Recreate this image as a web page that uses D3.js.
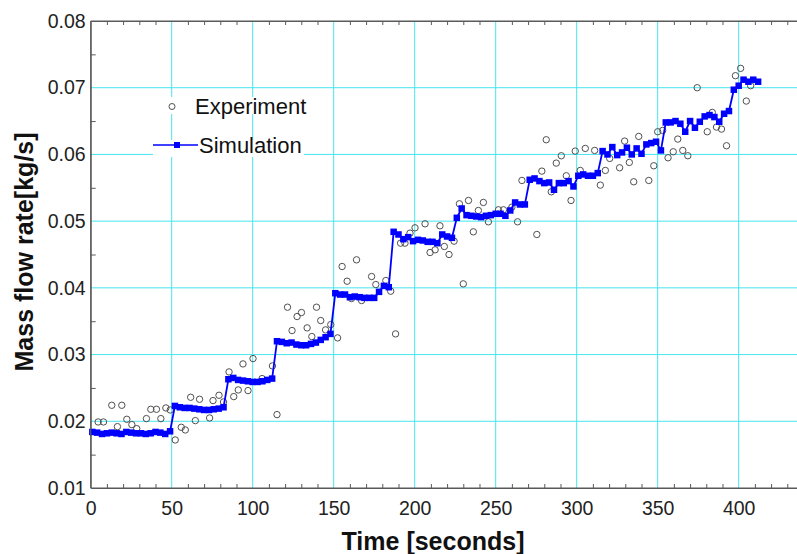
<!DOCTYPE html>
<html>
<head>
<meta charset="utf-8">
<script src="https://cdn.jsdelivr.net/npm/d3@7"></script>
<style>
  html, body { margin: 0; padding: 0; background: #fff; }
  svg { display: block; font-family: "Liberation Sans", Arial, sans-serif; }
</style>
</head>
<body>
<svg id="chart" width="797" height="554"></svg>
<script>
// Measured experimental mass flow rate (time in s, flow in kg/s)
const expTime = [4.6, 7.9, 13, 16.5, 19.2, 22.3, 25.4, 28.4, 34.4, 37.1, 40.6, 43.3, 46.4, 49.1,
  52.2, 55.9, 58.4, 61.7, 64.6, 67.2, 73.4, 75.5, 79.2, 82, 85.4, 88.3, 91.1, 94, 97.1, 100.2,
  105.8, 112.2, 115, 121.5, 124.3, 127.4, 130.1, 133.6, 136.5, 139.4, 142, 145, 148.2, 152.4,
  155.2, 158.3, 161, 164.1, 167.2, 173.4, 176, 182.2, 185.2, 188.2, 191.3, 194, 197.1, 200.2,
  206.4, 209.5, 212.6, 215.6, 218.3, 221.2, 224.3, 227.6, 230, 233.2, 236.2, 239.3, 242.4,
  245.5, 251.7, 254.8, 260, 263.5, 266.2, 275.4, 278.5, 281.2, 284.3, 287.4, 290.5, 293.6,
  296.5, 299.1, 302.2, 305.3, 311.1, 314.6, 317.7, 320.4, 326.5, 329.6, 332.5, 335.2, 338.3,
  344.5, 347.6, 350, 353.1, 356.4, 359.6, 362.4, 365.5, 368.6, 374.4, 380.6, 383.7, 386.3,
  389.4, 392.5, 398, 401.2, 404.7, 407.4];
const expFlow = [0.0199, 0.0199, 0.0224, 0.0192, 0.0224, 0.0203, 0.0195, 0.0189, 0.0204, 0.0218, 0.0218, 0.0204, 0.0220, 0.0217,
  0.0172, 0.0191, 0.0187, 0.0236, 0.0201, 0.0233, 0.0205, 0.0231, 0.0239, 0.0229, 0.0274, 0.0237, 0.0247, 0.0286, 0.0246, 0.0294,
  0.0264, 0.0283, 0.0210, 0.0371, 0.0336, 0.0357, 0.0363, 0.0340, 0.0327, 0.0371, 0.0351, 0.0337, 0.0345, 0.0325,
  0.0432, 0.0410, 0.0384, 0.0442, 0.0381, 0.0417, 0.0405, 0.0411, 0.0395, 0.0331, 0.0467, 0.0467, 0.0482, 0.0490,
  0.0496, 0.0453, 0.0457, 0.0493, 0.0462, 0.0450, 0.0470, 0.0526, 0.0406, 0.0531, 0.0484, 0.0516, 0.0528,
  0.0499, 0.0517, 0.0517, 0.0521, 0.0499, 0.0561, 0.0480, 0.0575, 0.0622, 0.0544, 0.0587, 0.0598, 0.0568,
  0.0531, 0.0605, 0.0576, 0.0609, 0.0606, 0.0554, 0.0576, 0.0594, 0.0580, 0.0620, 0.0588, 0.0559, 0.0627,
  0.0561, 0.0583, 0.0634, 0.0636, 0.0595, 0.0604, 0.0623, 0.0606, 0.0598, 0.0700, 0.0634, 0.0663, 0.0641,
  0.0638, 0.0613, 0.0718, 0.0729, 0.0680, 0.0703];

// Simulated mass flow rate (time in s, flow in kg/s)
const simTime = [1, 4, 7, 10, 13, 16, 19, 22, 25, 28, 31, 34, 37, 40, 43, 46, 49,
  52, 55, 58, 61, 64, 67, 70, 73, 76, 79, 82,
  85, 88, 91, 94, 97, 100, 103, 106, 109, 112,
  115, 118, 121, 124, 127, 130, 133, 136, 139, 142, 145, 148,
  151, 154, 157, 160, 163, 166, 169, 172, 175, 178, 181, 184,
  187, 190, 193, 196, 199, 202, 205, 208, 211, 214, 217, 220, 223,
  226, 229, 232, 235, 238, 241, 244, 247, 250, 253, 256, 259, 262, 265, 268,
  271, 274, 277, 280, 283, 286, 289, 292, 295, 298, 301, 304, 307, 310, 313,
  316, 319, 322, 325, 328, 331, 334, 337, 340, 343, 346, 349, 352,
  355, 358, 361, 364, 367, 370, 373, 376, 379, 382, 385, 388, 391, 394,
  397, 400, 403, 406, 409, 412];
const simFlow = [0.0184, 0.0183, 0.0181, 0.0182, 0.0183, 0.0182, 0.0181, 0.0184, 0.0183, 0.0182, 0.0182, 0.0181, 0.0182, 0.0184, 0.0183, 0.0181, 0.0185,
  0.0223, 0.0221, 0.0220, 0.0220, 0.0219, 0.0218, 0.0217, 0.0217, 0.0218, 0.0219, 0.0221,
  0.0263, 0.0265, 0.0262, 0.0261, 0.0260, 0.0259, 0.0259, 0.0260, 0.0262, 0.0264,
  0.0320, 0.0319, 0.0317, 0.0318, 0.0315, 0.0314, 0.0314, 0.0316, 0.0318, 0.0322, 0.0326, 0.0331,
  0.0392, 0.0390, 0.0390, 0.0386, 0.0387, 0.0386, 0.0385, 0.0385, 0.0385, 0.0394, 0.0403, 0.0401,
  0.0484, 0.0480, 0.0473, 0.0476, 0.0470, 0.0472, 0.0471, 0.0469, 0.0469, 0.0467, 0.0480, 0.0477, 0.0475,
  0.0505, 0.0519, 0.0509, 0.0508, 0.0507, 0.0506, 0.0508, 0.0509, 0.0511, 0.0511, 0.0508, 0.0516, 0.0528, 0.0525, 0.0525,
  0.0562, 0.0564, 0.0560, 0.0557, 0.0558, 0.0547, 0.0557, 0.0557, 0.0560, 0.0552, 0.0568, 0.0570, 0.0568, 0.0568, 0.0572,
  0.0605, 0.0600, 0.0611, 0.0599, 0.0603, 0.0610, 0.0600, 0.0609, 0.0601, 0.0615, 0.0617, 0.0619, 0.0606,
  0.0648, 0.0648, 0.0650, 0.0646, 0.0634, 0.0650, 0.0640, 0.0649, 0.0657, 0.0659, 0.0656, 0.0649, 0.0661, 0.0665,
  0.0697, 0.0703, 0.0712, 0.0709, 0.0712, 0.0709];

// Axis ticks
const xMajorTicks = [0, 50, 100, 150, 200, 250, 300, 350, 400];
const xMinorTicks = [10, 20, 30, 40, 60, 70, 80, 90, 110, 120, 130, 140, 160, 170, 180, 190,
  210, 220, 230, 240, 260, 270, 280, 290, 310, 320, 330, 340, 360, 370, 380, 390, 410, 420, 430];
const yMajorTicks = [0.01, 0.02, 0.03, 0.04, 0.05, 0.06, 0.07, 0.08];
const yMinorTicks = [0.015, 0.025, 0.035, 0.045, 0.055, 0.065, 0.075];

const seriesNames = ["Experiment", "Simulation"];
const xTitle = "Time [seconds]";
const yTitle = "Mass flow rate[kg/s]";

const svg = d3.select("#chart");
const x = d3.scaleLinear().domain([0, 436]).range([90.7, 797]);
const y = d3.scaleLinear().domain([0.01, 0.08]).range([488, 21]);
const [x0, x1] = x.range();
const [yBottom, yTop] = y.range();

const gridColor = "#45e6ee";
const axisColor = "#5a5a5a";
const simColor = "#0000ff";
const expColor = "#505050";
const markerSize = 6.5;

// Grid
const grid = svg.append("g");
grid.selectAll("line.v").data(xMajorTicks.filter(d => d > 0)).join("line")
  .attr("x1", d => x(d)).attr("x2", d => x(d))
  .attr("y1", yTop).attr("y2", yBottom)
  .attr("stroke", gridColor).attr("stroke-width", 1);
grid.selectAll("line.h").data(yMajorTicks.filter(d => d > 0.01 && d < 0.08)).join("line")
  .attr("x1", x0).attr("x2", x1)
  .attr("y1", d => y(d)).attr("y2", d => y(d))
  .attr("stroke", gridColor).attr("stroke-width", 1);

// Legend backgrounds sit above the grid
svg.append("rect").attr("x", 160).attr("y", 97).attr("width", 145).attr("height", 17).attr("fill", "#fff");
svg.append("rect").attr("x", 153).attr("y", 140).attr("width", 151).attr("height", 17).attr("fill", "#fff");

// Minor ticks and frame lines
function styleAxis(g) {
  g.selectAll("path.domain").attr("stroke", axisColor);
  g.selectAll(".tick line").attr("stroke", axisColor);
}
svg.append("g").attr("transform", `translate(${x0},0)`)
  .call(d3.axisRight(y).tickValues(yMinorTicks).tickSize(5).tickSizeOuter(0).tickFormat(""))
  .call(styleAxis);
svg.append("g").attr("transform", `translate(0,${yBottom})`)
  .call(d3.axisTop(x).tickValues(xMinorTicks).tickSize(4).tickSizeOuter(0).tickFormat(""))
  .call(styleAxis);
svg.append("g").attr("transform", `translate(0,${yTop})`)
  .call(d3.axisBottom(x).tickValues(xMinorTicks).tickSize(4).tickSizeOuter(0).tickFormat(""))
  .call(styleAxis);

// Tick labels
const yAxis = svg.append("g").attr("transform", `translate(${x0},0)`)
  .call(d3.axisLeft(y).tickValues(yMajorTicks).tickSize(0).tickPadding(5).tickFormat(d3.format(".2f")));
yAxis.select("path.domain").remove();
yAxis.selectAll("text").attr("font-size", 19.5).attr("fill", "#222").attr("font-family", "Liberation Sans, Arial, sans-serif");

const xAxis = svg.append("g").attr("transform", `translate(0,${yBottom})`)
  .call(d3.axisBottom(x).tickValues(xMajorTicks).tickSize(0).tickPadding(13).tickFormat(d3.format("d")));
xAxis.select("path.domain").remove();
xAxis.selectAll("text").attr("font-size", 19.5).attr("fill", "#222").attr("font-family", "Liberation Sans, Arial, sans-serif");

// Experimental points
svg.append("g").selectAll("circle").data(expTime.map((t, i) => [t, expFlow[i]])).join("circle")
  .attr("cx", d => x(d[0])).attr("cy", d => y(d[1])).attr("r", 3.2)
  .attr("fill", "none").attr("stroke", expColor).attr("stroke-width", 1);

// Simulation line with square markers
const simData = simTime.map((t, i) => [t, simFlow[i]]);
svg.append("path").datum(simData)
  .attr("d", d3.line().x(d => x(d[0])).y(d => y(d[1])))
  .attr("fill", "none").attr("stroke", simColor).attr("stroke-width", 1.8);
svg.append("g").selectAll("rect").data(simData).join("rect")
  .attr("x", d => x(d[0]) - markerSize / 2).attr("y", d => y(d[1]) - markerSize / 2)
  .attr("width", markerSize).attr("height", markerSize).attr("fill", simColor);

// Legend
const legend = svg.append("g").attr("font-size", 22).attr("fill", "#111");
legend.append("circle").attr("cx", 172).attr("cy", 106.5).attr("r", 3)
  .attr("fill", "none").attr("stroke", expColor);
legend.append("text").attr("x", 195).attr("y", 114).text(seriesNames[0]);
legend.append("line").attr("x1", 153).attr("x2", 198).attr("y1", 145).attr("y2", 145)
  .attr("stroke", simColor).attr("stroke-width", 1.6);
legend.append("rect").attr("x", 174).attr("y", 142).attr("width", 6).attr("height", 6).attr("fill", simColor);
legend.append("text").attr("x", 199).attr("y", 153).text(seriesNames[1]);

// Frame: left, bottom and top axis lines drawn over the data edges
svg.append("line").attr("x1", x0).attr("x2", x0).attr("y1", yTop).attr("y2", yBottom)
  .attr("stroke", axisColor).attr("stroke-width", 1.2);
svg.append("line").attr("x1", x0).attr("x2", x1).attr("y1", yBottom).attr("y2", yBottom)
  .attr("stroke", axisColor).attr("stroke-width", 1.2);
svg.append("line").attr("x1", x0).attr("x2", x1).attr("y1", yTop).attr("y2", yTop)
  .attr("stroke", axisColor).attr("stroke-width", 1.2);

// Axis titles
svg.append("text").attr("x", 433).attr("y", 550).attr("text-anchor", "middle")
  .attr("font-size", 25).attr("font-weight", "bold").attr("fill", "#111").text(xTitle);
svg.append("text").attr("transform", "translate(33,252) rotate(-90)").attr("text-anchor", "middle")
  .attr("font-size", 25).attr("font-weight", "bold").attr("fill", "#111").text(yTitle);
</script>
</body>
</html>
